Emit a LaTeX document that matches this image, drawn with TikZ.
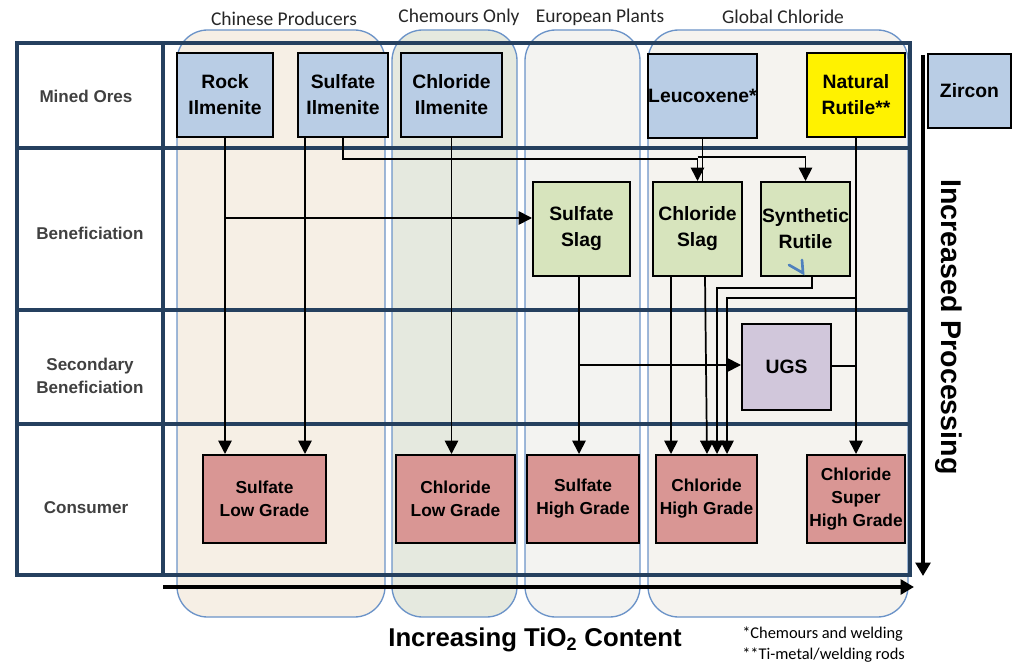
\documentclass[tikz,border=0pt]{standalone}
\usepackage{fontspec}
\setmainfont{Liberation Sans}
\newfontfamily\calibri{Carlito}
\usetikzlibrary{arrows.meta}
\definecolor{frameblue}{HTML}{25405F}
\definecolor{colblue}{HTML}{6B93C8}
\definecolor{chinc}{HTML}{F6EFE5}
\definecolor{chemc}{HTML}{E5E9DF}
\definecolor{euroc}{HTML}{F3F3F1}
\definecolor{globc}{HTML}{F5F3EF}
\definecolor{orebox}{HTML}{B9CDE5}
\definecolor{benbox}{HTML}{D7E4BD}
\definecolor{ugsbox}{HTML}{D1C7DB}
\definecolor{conbox}{HTML}{D99694}
\definecolor{labgrey}{HTML}{404040}
\definecolor{tickblue}{HTML}{4F81BD}
\tikzset{
  gridline/.style={draw=frameblue, line width=3pt},
  colbg/.style={draw=colblue, line width=1pt, rounded corners=23pt},
  sz/.style 2 args={minimum width=#1*0.75pt, minimum height=#2*0.75pt},
  box/.style={draw=black, line width=1.5pt, inner sep=0pt, align=center,
    font=\bfseries\fontsize{14.5}{19.5}\selectfont},
  ore/.style={box, fill=orebox},
  ben/.style={box, fill=benbox},
  con/.style={box, fill=conbox, font=\bfseries\fontsize{13}{17.3}\selectfont},
  rowlab/.style={align=center, text=labgrey, font=\bfseries\fontsize{12.8}{17}\selectfont},
  collab/.style={font=\calibri\fontsize{14.6}{16}\selectfont, text=black!85},
  conn/.style={draw=black, line width=1.3pt},
  arr/.style={conn, -{Triangle[length=10pt,width=10pt]}},
  axisarrow/.style={draw=black, line width=3pt, -{Triangle[length=10pt,width=11pt]}}
}
\begin{document}
\begin{tikzpicture}[x=0.75pt,y=-0.75pt]
\useasboundingbox (0,0) rectangle (1016,663);
% column backgrounds
\path[colbg, fill=chinc] (177,30) rectangle (385,617);
\path[colbg, fill=chemc] (392,30) rectangle (517,617);
\path[colbg, fill=euroc] (525,30) rectangle (640,617);
\path[colbg, fill=globc] (648,30) rectangle (908,617);
% column labels
\node[collab] (tchin) at (284,19) {Chinese Producers};
\node[collab] (tchem) at (459,17) {Chemours Only};
\node[collab] (teuro) at (600,17) {European Plants};
\node[collab] (tglob) at (783,17) {Global Chloride};
% grid
\draw[gridline] (17,43) rectangle (910,575);
\draw[gridline] (163,43) -- (163,575);
\draw[gridline] (17,148) -- (910,148);
\draw[gridline] (17,310) -- (910,310);
\draw[gridline] (17,424) -- (910,424);
% row labels
\node[rowlab] (lmined) at (86,96) {Mined Ores};
\node[rowlab] (lben) at (90,233) {Beneficiation};
\node[rowlab] (lsec) at (90,376) {Secondary\\Beneficiation};
\node[rowlab] (lcons) at (86,508) {Consumer};
% nodes
\node[ore, sz={96}{84}] (rock) at (225,95) {Rock\\Ilmenite};
\node[ore, sz={90}{84}] (sulil) at (343,95) {Sulfate\\Ilmenite};
\node[ore, sz={101}{84}] (chlil) at (451.5,95) {Chloride\\Ilmenite};
\node[ore, sz={109}{84}] (leuc) at (702.5,96) {Leucoxene*};
\node[box, fill=yellow, sz={98}{84}] (natr) at (856,95) {Natural\\Rutile**};
\node[ore, sz={83}{74}] (zirc) at (969.5,91) {Zircon};
\node[ben, sz={97}{94}] (sslag) at (581.5,229) {Sulfate\\Slag};
\node[ben, sz={89}{94}] (cslag) at (697.5,229) {Chloride\\Slag};
\node[ben, sz={89}{94}] (synr) at (805.5,229) {Synthetic\\Rutile};
\node[box, fill=ugsbox, sz={89}{86}] (ugs) at (786.5,367) {UGS};
\node[con, sz={123}{88}] (slow) at (264.5,499) {Sulfate\\Low Grade};
\node[con, sz={119}{88}] (clow) at (455.5,499) {Chloride\\Low Grade};
\node[con, sz={112}{88}] (shigh) at (583,499) {Sulfate\\High Grade};
\node[con, sz={101}{88}] (chigh) at (706.5,499) {Chloride\\High Grade};
\node[con, sz={98}{88}] (csup) at (856,499) {Chloride\\Super\\High Grade};
% blue tick mark
\draw[tickblue, line width=2pt, line cap=round] (789,265) -- (803,273) -- (802,260);
% connectors
\draw[arr] (rock.south) -- (rock.south |- slow.north);
\draw[arr] (rock.south |- 0,218) -- (sslag.west |- 0,218);
\draw[arr] (sulil.south -| 305,0) -- (slow.north -| 305,0);
\draw[arr] (sulil.south) |- (cslag.north |- 0,159) -- (cslag.north);
\draw[arr] (cslag.north |- 0,157) -| (synr.north);
\draw[arr] (chlil.south) -- (chlil.south |- clow.north);
\draw[conn] (leuc.south) -- (leuc.south |- cslag.north);
\draw[arr] (natr.south) -- (natr.south |- csup.north);
\draw[arr] (natr.south |- 0,298) -| (chigh.north -| 727,0);
\draw[arr] (synr.south -| 812,0) |- (717,288) -- (chigh.north -| 717,0);
\draw[arr] (cslag.south -| 671,0) -- (chigh.north -| 671,0);
\draw[arr] (cslag.south -| 705,0) -- (chigh.north -| 707,0);
\draw[arr] (sslag.south -| 579,0) -- (shigh.north -| 579,0);
\draw[arr] (579,365) -- (ugs.west |- 0,365);
\draw[conn] (ugs.east |- 0,366) -- (natr.south |- 0,366);
% axes
\coordinate (hstart) at (163,587);
\coordinate (hend) at (914,587);
\coordinate (vstart) at (923,55);
\coordinate (vend) at (923,576);
\draw[axisarrow] (hstart) -- (hend);
\draw[axisarrow] (vstart) -- (vend);
\node[rotate=-90, font=\bfseries\fontsize{21.4}{24}\selectfont] (proc) at (949,327) {Increased Processing};
\node[font=\bfseries\fontsize{19.3}{22}\selectfont] (tio) at (535,640) {Increasing TiO\textsubscript{2} Content};
\node[anchor=west, font=\calibri\fontsize{12.3}{14}\selectfont, inner sep=0pt] (fn1) at (742,634) {*Chemours and welding};
\node[anchor=west, font=\calibri\fontsize{12.3}{14}\selectfont, inner sep=0pt] (fn2) at (742,655) {**Ti-metal/welding rods};
\end{tikzpicture}
\end{document}
